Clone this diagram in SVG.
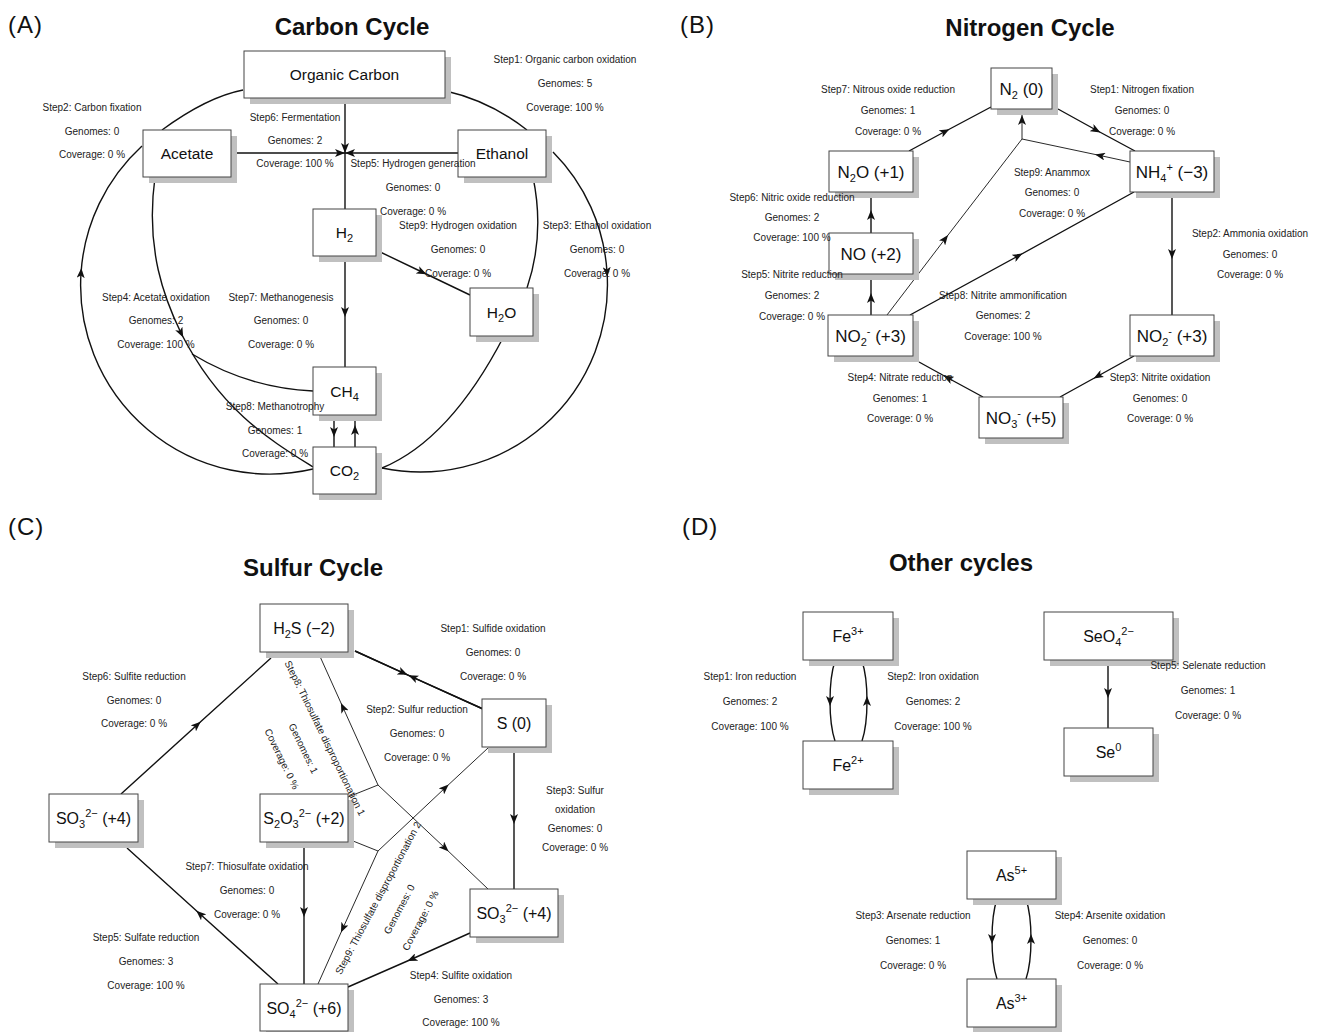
<svg xmlns="http://www.w3.org/2000/svg" width="1320" height="1032" viewBox="0 0 1320 1032">
<style>
.pl{font-family:"Liberation Sans",Arial,sans-serif;font-size:24px;fill:#111;letter-spacing:1px}
.tt{font-family:"Liberation Sans",Arial,sans-serif;font-size:24px;font-weight:bold;fill:#111;text-anchor:middle}
.lb{font-family:"Liberation Sans",Arial,sans-serif;font-size:10px;fill:#222;text-anchor:middle}
.nt{font-family:"Liberation Sans",Arial,sans-serif;font-size:15.5px;fill:#111;text-anchor:middle}
.nn{font-family:"Liberation Sans",Arial,sans-serif;font-size:17px;fill:#111;text-anchor:middle}
.ns{font-family:"Liberation Sans",Arial,sans-serif;font-size:16px;fill:#111;text-anchor:middle}
.sb{font-size:11px}
.sh{fill:#c0c0c0}
.bx{fill:#fff;stroke:#444;stroke-width:1}
.c{fill:none;stroke:#111;stroke-width:1.4}
.t{fill:none;stroke:#111;stroke-width:0.9}
.m{marker-mid:url(#am)}
.e{marker-end:url(#ae)}
</style>
<defs>
<marker id="am" viewBox="0 0 10 8" refX="5" refY="4" markerWidth="10" markerHeight="8" markerUnits="userSpaceOnUse" orient="auto"><path d="M0,0 L10,4 L0,8 L2.5,4 z" fill="#111"/></marker>
<marker id="ae" viewBox="0 0 10 8" refX="10" refY="4" markerWidth="10" markerHeight="8" markerUnits="userSpaceOnUse" orient="auto"><path d="M0,0 L10,4 L0,8 L2.5,4 z" fill="#111"/></marker>
</defs>
<rect width="1320" height="1032" fill="#fff"/>

<text class="pl" x="8" y="33">(A)</text>
<text class="pl" x="680" y="33">(B)</text>
<text class="pl" x="8" y="535">(C)</text>
<text class="pl" x="682" y="535">(D)</text>
<text class="tt" x="352" y="35">Carbon Cycle</text>
<text class="tt" x="1030" y="36">Nitrogen Cycle</text>
<text class="tt" x="313" y="576">Sulfur Cycle</text>
<text class="tt" x="961" y="571">Other cycles</text>

<g id="connectors">
<!-- Carbon -->
<path class="c e" d="M345,98 L345,153"/>
<path class="c e" d="M231,153 L345,153"/>
<path class="c e" d="M458,153 L345,153"/>
<path class="c" d="M345,153 L345,209"/>
<path class="c m" d="M376,250 L422,272 L470,295"/>
<path class="c m" d="M345,256 L345,312 L345,367"/>
<path class="c m" d="M334,415 L334,432 L334,447"/>
<path class="c m" d="M355,447 L355,430 L355,415"/>
<path class="c" d="M243,90 Q207,97 162,130"/>
<path class="c" d="M446,91 Q490,101 527,130"/>
<path class="c m" d="M313,469 A189,189 0 0 1 81,273 A189,189 0 0 1 142,146"/>
<path class="c m" d="M553,152 A187,187 0 0 1 607,272 A187,187 0 0 1 382,468"/>
<path class="c m" d="M155,177 C145,250 165,300 181,333 C220,410 270,440 313,467"/>
<path class="c" d="M192,354 Q248,388 313,391"/>
<path class="c" d="M533,177 Q545,235 527,288"/>
<path class="c" d="M504,336 Q450,440 382,468"/>
<!-- Nitrogen -->
<path class="c m" d="M909,151 L945,131.5 L991,107"/>
<path class="c m" d="M1058,109 L1096,130 L1135,151"/>
<path class="t m" d="M1130,162 L1100,155.5 L1022,139"/>
<path class="t e" d="M1022,139 L1022,115"/>
<path class="t m" d="M887,315 L945,239 L1022,139"/>
<path class="c m" d="M910,315 L1018,256 L1134,192"/>
<path class="c m" d="M1172,192 L1172,254 L1172,315"/>
<path class="c m" d="M1134,356 L1098,376 L1060,397"/>
<path class="c m" d="M983,397 L948,378 L919,362"/>
<path class="c m" d="M871,315 L871,298 L871,274"/>
<path class="c m" d="M871,233 L871,215 L871,192"/>
<!-- Sulfur -->
<path class="c m" d="M355,651 L403,672.8 L483,709"/>
<path class="c m" d="M483,709 L413,677.3 L355,651"/>
<path class="c m" d="M121,794 L197,725 L271,658"/>
<path class="c m" d="M278,984 L200,914 L127,848"/>
<path class="c m" d="M304,842 L304,912 L304,984"/>
<path class="c m" d="M514,747 L514,819 L514,889"/>
<path class="c m" d="M470,933 L412,959 L348,987"/>
<path class="t" d="M348,797 L378,785"/>
<path class="t m" d="M378,785 L343,707.5 L318,652"/>
<path class="t m" d="M378,785 L445,848 L488,889"/>
<path class="t" d="M348,839 L378,851"/>
<path class="t m" d="M378,851 L445,788 L488,748"/>
<path class="t m" d="M378,851 L343,928 L318,984"/>
<!-- Other -->
<path class="c m" d="M835,661 Q830,676 830,701 Q830,726 835,741"/>
<path class="c m" d="M862,741 Q867,726 867,701 Q867,676 862,661"/>
<path class="c m" d="M1108,660 L1108,693 L1108,728"/>
<path class="c m" d="M997,899 Q992,914 992,939 Q992,964 997,979"/>
<path class="c m" d="M1026,979 Q1031,964 1031,939 Q1031,914 1026,899"/>
</g>

<!-- Carbon nodes -->
<g id="organic-carbon"><rect class="sh" x="250" y="57" width="201" height="47"/><rect class="bx" x="244" y="51" width="201" height="47"/><text class="nt" x="344.5" y="80">Organic Carbon</text></g>
<g id="acetate"><rect class="sh" x="149" y="136" width="88" height="47"/><rect class="bx" x="143" y="130" width="88" height="47"/><text class="nt" x="187" y="159">Acetate</text></g>
<g id="ethanol"><rect class="sh" x="464" y="136" width="88" height="47"/><rect class="bx" x="458" y="130" width="88" height="47"/><text class="nt" x="502" y="159">Ethanol</text></g>
<g id="h2"><rect class="sh" x="319" y="215" width="63" height="47"/><rect class="bx" x="313" y="209" width="63" height="47"/><text class="nt" x="344.5" y="238">H<tspan class="sb" dy="4">2</tspan></text></g>
<g id="h2o"><rect class="sh" x="476" y="294" width="63" height="48"/><rect class="bx" x="470" y="288" width="63" height="48"/><text class="nt" x="501.5" y="317.5">H<tspan class="sb" dy="4">2</tspan><tspan dy="-4">O</tspan></text></g>
<g id="ch4"><rect class="sh" x="319" y="373" width="63" height="48"/><rect class="bx" x="313" y="367" width="63" height="48"/><text class="nt" x="344.5" y="396.5">CH<tspan class="sb" dy="4">4</tspan></text></g>
<g id="co2"><rect class="sh" x="319" y="453" width="63" height="47"/><rect class="bx" x="313" y="447" width="63" height="47"/><text class="nt" x="344.5" y="476">CO<tspan class="sb" dy="4">2</tspan></text></g>

<!-- Nitrogen nodes -->
<g id="n2"><rect class="sh" x="997" y="74" width="61" height="41"/><rect class="bx" x="991" y="68" width="61" height="41"/><text class="nn" x="1021.5" y="94.5">N<tspan class="sb" dy="4">2</tspan><tspan dy="-4"> (0)</tspan></text></g>
<g id="n2o"><rect class="sh" x="835" y="157" width="84" height="41"/><rect class="bx" x="829" y="151" width="84" height="41"/><text class="nn" x="871" y="177.5">N<tspan class="sb" dy="4">2</tspan><tspan dy="-4">O (+1)</tspan></text></g>
<g id="nh4"><rect class="sh" x="1136" y="157" width="84" height="41"/><rect class="bx" x="1130" y="151" width="84" height="41"/><text class="nn" x="1172" y="177.5">NH<tspan class="sb" dy="4">4</tspan><tspan class="sb" dy="-11">+</tspan><tspan dy="7"> (−3)</tspan></text></g>
<g id="no"><rect class="sh" x="835" y="239" width="84" height="41"/><rect class="bx" x="829" y="233" width="84" height="41"/><text class="nn" x="871" y="259.5">NO (+2)</text></g>
<g id="no2-left"><rect class="sh" x="834" y="321" width="85" height="41"/><rect class="bx" x="828" y="315" width="85" height="41"/><text class="nn" x="870.5" y="341.5">NO<tspan class="sb" dy="4">2</tspan><tspan class="sb" dy="-11">-</tspan><tspan dy="7"> (+3)</tspan></text></g>
<g id="no2-right"><rect class="sh" x="1136" y="321" width="84" height="41"/><rect class="bx" x="1130" y="315" width="84" height="41"/><text class="nn" x="1172" y="341.5">NO<tspan class="sb" dy="4">2</tspan><tspan class="sb" dy="-11">-</tspan><tspan dy="7"> (+3)</tspan></text></g>
<g id="no3"><rect class="sh" x="985" y="403" width="84" height="41"/><rect class="bx" x="979" y="397" width="84" height="41"/><text class="nn" x="1021" y="423.5">NO<tspan class="sb" dy="4">3</tspan><tspan class="sb" dy="-11">-</tspan><tspan dy="7"> (+5)</tspan></text></g>

<!-- Sulfur nodes -->
<g id="h2s"><rect class="sh" x="266" y="610" width="88" height="48"/><rect class="bx" x="260" y="604" width="88" height="48"/><text class="ns" x="304" y="633.5">H<tspan class="sb" dy="4">2</tspan><tspan dy="-4">S (−2)</tspan></text></g>
<g id="s0"><rect class="sh" x="488" y="705" width="64" height="48"/><rect class="bx" x="482" y="699" width="64" height="48"/><text class="ns" x="514" y="728.5">S (0)</text></g>
<g id="so3-left"><rect class="sh" x="55" y="800" width="89" height="48"/><rect class="bx" x="49" y="794" width="89" height="48"/><text class="ns" x="93.5" y="823.5">SO<tspan class="sb" dy="4">3</tspan><tspan class="sb" dy="-11">2−</tspan><tspan dy="7"> (+4)</tspan></text></g>
<g id="s2o3"><rect class="sh" x="266" y="800" width="88" height="48"/><rect class="bx" x="260" y="794" width="88" height="48"/><text class="ns" x="304" y="823.5">S<tspan class="sb" dy="4">2</tspan><tspan dy="-4">O</tspan><tspan class="sb" dy="4">3</tspan><tspan class="sb" dy="-11">2−</tspan><tspan dy="7"> (+2)</tspan></text></g>
<g id="so3-right"><rect class="sh" x="476" y="895" width="88" height="48"/><rect class="bx" x="470" y="889" width="88" height="48"/><text class="ns" x="514" y="918.5">SO<tspan class="sb" dy="4">3</tspan><tspan class="sb" dy="-11">2−</tspan><tspan dy="7"> (+4)</tspan></text></g>
<g id="so4"><rect class="sh" x="266" y="990" width="88" height="47"/><rect class="bx" x="260" y="984" width="88" height="47"/><text class="ns" x="304" y="1013.5">SO<tspan class="sb" dy="4">4</tspan><tspan class="sb" dy="-11">2−</tspan><tspan dy="7"> (+6)</tspan></text></g>

<!-- Other nodes -->
<g id="fe3"><rect class="sh" x="809" y="618" width="90" height="48"/><rect class="bx" x="803" y="612" width="90" height="48"/><text class="ns" x="848" y="641.5">Fe<tspan class="sb" dy="-7">3+</tspan></text></g>
<g id="fe2"><rect class="sh" x="809" y="747" width="90" height="48"/><rect class="bx" x="803" y="741" width="90" height="48"/><text class="ns" x="848" y="770.5">Fe<tspan class="sb" dy="-7">2+</tspan></text></g>
<g id="seo4"><rect class="sh" x="1050" y="618" width="129" height="48"/><rect class="bx" x="1044" y="612" width="129" height="48"/><text class="ns" x="1108.5" y="641.5">SeO<tspan class="sb" dy="4">4</tspan><tspan class="sb" dy="-11">2−</tspan></text></g>
<g id="se0"><rect class="sh" x="1070" y="734" width="89" height="48"/><rect class="bx" x="1064" y="728" width="89" height="48"/><text class="ns" x="1108.5" y="757.5">Se<tspan class="sb" dy="-7">0</tspan></text></g>
<g id="as5"><rect class="sh" x="973" y="857" width="89" height="48"/><rect class="bx" x="967" y="851" width="89" height="48"/><text class="ns" x="1011.5" y="880.5">As<tspan class="sb" dy="-7">5+</tspan></text></g>
<g id="as3"><rect class="sh" x="973" y="985" width="89" height="48"/><rect class="bx" x="967" y="979" width="89" height="48"/><text class="ns" x="1011.5" y="1008.5">As<tspan class="sb" dy="-7">3+</tspan></text></g>

<g id="labels">
<!-- Carbon -->
<text class="lb" x="565" y="62.5">Step1: Organic carbon oxidation</text><text class="lb" x="565" y="86.5">Genomes: 5</text><text class="lb" x="565" y="110.5">Coverage: 100 %</text>
<text class="lb" x="92" y="110.5">Step2: Carbon fixation</text><text class="lb" x="92" y="134.5">Genomes: 0</text><text class="lb" x="92" y="157.5">Coverage: 0 %</text>
<text class="lb" x="295" y="120.5">Step6: Fermentation</text><text class="lb" x="295" y="143.5">Genomes: 2</text><text class="lb" x="295" y="166.5">Coverage: 100 %</text>
<text class="lb" x="413" y="166.5">Step5: Hydrogen generation</text><text class="lb" x="413" y="190.5">Genomes: 0</text><text class="lb" x="413" y="214.5">Coverage: 0 %</text>
<text class="lb" x="458" y="228.5">Step9: Hydrogen oxidation</text><text class="lb" x="458" y="252.5">Genomes: 0</text><text class="lb" x="458" y="276.5">Coverage: 0 %</text>
<text class="lb" x="597" y="228.5">Step3: Ethanol oxidation</text><text class="lb" x="597" y="252.5">Genomes: 0</text><text class="lb" x="597" y="276.5">Coverage: 0 %</text>
<text class="lb" x="156" y="300.5">Step4: Acetate oxidation</text><text class="lb" x="156" y="323.5">Genomes: 2</text><text class="lb" x="156" y="347.5">Coverage: 100 %</text>
<text class="lb" x="281" y="300.5">Step7: Methanogenesis</text><text class="lb" x="281" y="323.5">Genomes: 0</text><text class="lb" x="281" y="347.5">Coverage: 0 %</text>
<text class="lb" x="275" y="409.5">Step8: Methanotrophy</text><text class="lb" x="275" y="433.5">Genomes: 1</text><text class="lb" x="275" y="456.5">Coverage: 0 %</text>
<!-- Nitrogen -->
<text class="lb" x="888" y="92.5">Step7: Nitrous oxide reduction</text><text class="lb" x="888" y="113.5">Genomes: 1</text><text class="lb" x="888" y="134.5">Coverage: 0 %</text>
<text class="lb" x="1142" y="92.5">Step1: Nitrogen fixation</text><text class="lb" x="1142" y="113.5">Genomes: 0</text><text class="lb" x="1142" y="134.5">Coverage: 0 %</text>
<text class="lb" x="1052" y="175.5">Step9: Anammox</text><text class="lb" x="1052" y="195.5">Genomes: 0</text><text class="lb" x="1052" y="216.5">Coverage: 0 %</text>
<text class="lb" x="792" y="200.5">Step6: Nitric oxide reduction</text><text class="lb" x="792" y="220.5">Genomes: 2</text><text class="lb" x="792" y="240.5">Coverage: 100 %</text>
<text class="lb" x="792" y="277.5">Step5: Nitrite reduction</text><text class="lb" x="792" y="298.5">Genomes: 2</text><text class="lb" x="792" y="319.5">Coverage: 0 %</text>
<text class="lb" x="1003" y="298.5">Step8: Nitrite ammonification</text><text class="lb" x="1003" y="318.5">Genomes: 2</text><text class="lb" x="1003" y="339.5">Coverage: 100 %</text>
<text class="lb" x="1250" y="236.5">Step2: Ammonia oxidation</text><text class="lb" x="1250" y="257.5">Genomes: 0</text><text class="lb" x="1250" y="277.5">Coverage: 0 %</text>
<text class="lb" x="900" y="380.5">Step4: Nitrate reduction</text><text class="lb" x="900" y="401.5">Genomes: 1</text><text class="lb" x="900" y="421.5">Coverage: 0 %</text>
<text class="lb" x="1160" y="380.5">Step3: Nitrite oxidation</text><text class="lb" x="1160" y="401.5">Genomes: 0</text><text class="lb" x="1160" y="421.5">Coverage: 0 %</text>
<!-- Sulfur -->
<text class="lb" x="493" y="631.5">Step1: Sulfide oxidation</text><text class="lb" x="493" y="655.5">Genomes: 0</text><text class="lb" x="493" y="679.5">Coverage: 0 %</text>
<text class="lb" x="417" y="712.5">Step2: Sulfur reduction</text><text class="lb" x="417" y="736.5">Genomes: 0</text><text class="lb" x="417" y="760.5">Coverage: 0 %</text>
<text class="lb" x="575" y="793.5">Step3: Sulfur</text><text class="lb" x="575" y="812.5">oxidation</text><text class="lb" x="575" y="831.5">Genomes: 0</text><text class="lb" x="575" y="850.5">Coverage: 0 %</text>
<text class="lb" x="134" y="679.5">Step6: Sulfite reduction</text><text class="lb" x="134" y="703.5">Genomes: 0</text><text class="lb" x="134" y="726.5">Coverage: 0 %</text>
<text class="lb" x="247" y="869.5">Step7: Thiosulfate oxidation</text><text class="lb" x="247" y="893.5">Genomes: 0</text><text class="lb" x="247" y="917.5">Coverage: 0 %</text>
<text class="lb" x="146" y="940.5">Step5: Sulfate reduction</text><text class="lb" x="146" y="964.5">Genomes: 3</text><text class="lb" x="146" y="988.5">Coverage: 100 %</text>
<text class="lb" x="461" y="978.5">Step4: Sulfite oxidation</text><text class="lb" x="461" y="1002.5">Genomes: 3</text><text class="lb" x="461" y="1025.5">Coverage: 100 %</text>
<g transform="translate(325,738) rotate(64)"><text class="lb" x="0" y="3.5">Step8: Thiosulfate disproportionation 1</text><text class="lb" x="0" y="27.5">Genomes: 1</text><text class="lb" x="0" y="51.5">Coverage: 0 %</text></g>
<g transform="translate(378,898) rotate(-62)"><text class="lb" x="0" y="3.5">Step9: Thiosulfate disproportionation 2</text><text class="lb" x="0" y="27.5">Genomes: 0</text><text class="lb" x="0" y="51.5">Coverage: 0 %</text></g>
<!-- Other -->
<text class="lb" x="750" y="679.5">Step1: Iron reduction</text><text class="lb" x="750" y="704.5">Genomes: 2</text><text class="lb" x="750" y="729.5">Coverage: 100 %</text>
<text class="lb" x="933" y="679.5">Step2: Iron oxidation</text><text class="lb" x="933" y="704.5">Genomes: 2</text><text class="lb" x="933" y="729.5">Coverage: 100 %</text>
<text class="lb" x="1208" y="668.5">Step5: Selenate reduction</text><text class="lb" x="1208" y="693.5">Genomes: 1</text><text class="lb" x="1208" y="718.5">Coverage: 0 %</text>
<text class="lb" x="913" y="918.5">Step3: Arsenate reduction</text><text class="lb" x="913" y="943.5">Genomes: 1</text><text class="lb" x="913" y="968.5">Coverage: 0 %</text>
<text class="lb" x="1110" y="918.5">Step4: Arsenite oxidation</text><text class="lb" x="1110" y="943.5">Genomes: 0</text><text class="lb" x="1110" y="968.5">Coverage: 0 %</text>
</g>
</svg>
